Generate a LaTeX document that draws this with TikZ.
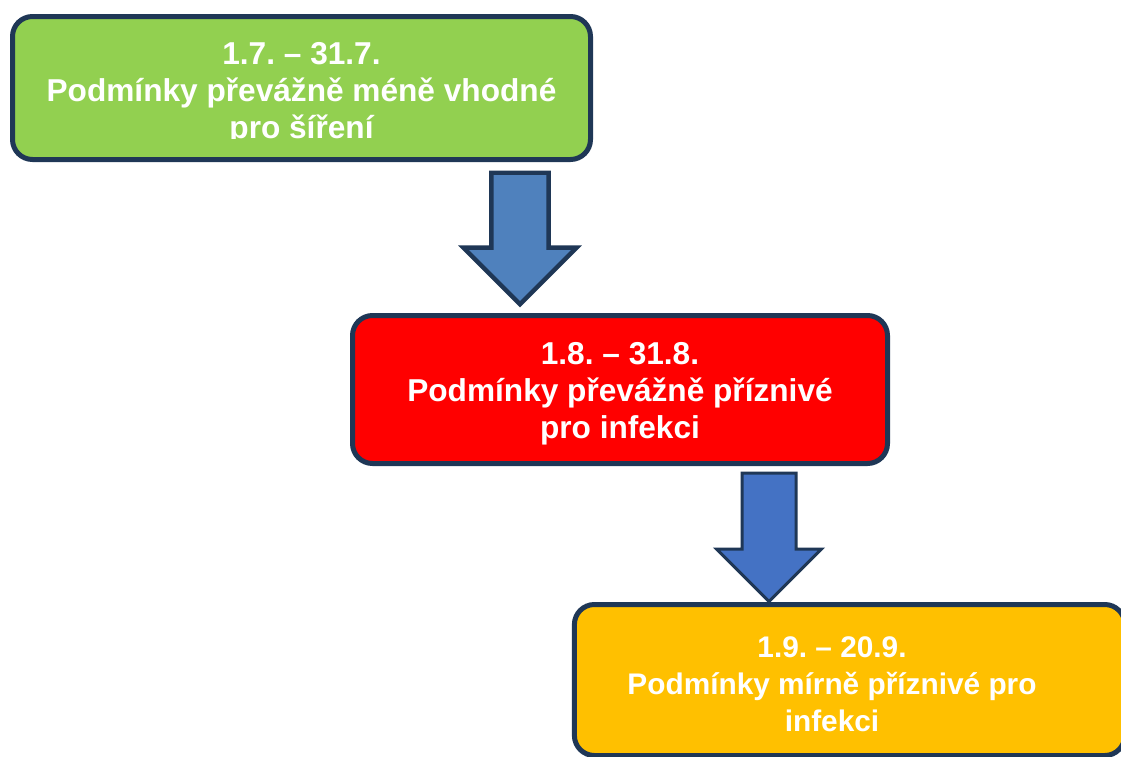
\documentclass[tikz,border=0pt]{standalone}
\usepackage{fontspec}
\setmainfont{Liberation Sans}
\frenchspacing
\usetikzlibrary{shapes.arrows}

\definecolor{edgeblue}{HTML}{1F3756}
\definecolor{greenfill}{HTML}{92D050}
\definecolor{redfill}{HTML}{FF0000}
\definecolor{yellowfill}{HTML}{FFC000}
\definecolor{arrowone}{HTML}{4F81BD}
\definecolor{arrowtwo}{HTML}{4472C4}

\begin{document}
\begin{tikzpicture}[
	box/.style={draw=edgeblue, line width=1.25mm, rounded corners=5mm, rectangle, inner sep=0pt},
	txt/.style={text=white, font=\bfseries\fontsize{22.5}{26.3}\selectfont, align=center, inner sep=0pt},
	downarrow/.style={draw=edgeblue, single arrow, shape border rotate=270, single arrow tip angle=90}
	]
	
	% Rahmen
	\useasboundingbox (0,0) rectangle (28.025,-18.9);
	\clip (0,0) rectangle (28.025,-18.9);
	
	% ======================
	% Juli
	% ======================
	\node[box, fill=greenfill, minimum width=14.45cm, minimum height=3.575cm] (b1) at (7.5375,-2.2) {};
	
	% letzte Zeile unten abgeschnitten
	\begin{scope}
		\clip (0,0) rectangle (28.025,-3.45);
		\node[txt] (t1) at (7.5375,-2.35) {1.7. – 31.7.\\Podmínky převážně méně vhodné\\pro šíření};
	\end{scope}
	
	\node[downarrow, fill=arrowone, line width=1.1mm, inner sep=0.66cm, single arrow head extend=0.7cm, minimum height=3.2875cm, anchor=tail] (a1) at (13.0,-4.2625) {};
	
	% ======================
	% August
	% ======================
	\node[box, fill=redfill, minimum width=13.375cm, minimum height=3.7cm] (b2) at (15.5,-9.7375) {};
	\node[txt] (t2) at (15.5,-9.8375) {1.8. – 31.8.\\Podmínky převážně příznivé\\pro infekci};
	
	\node[downarrow, fill=arrowtwo, line width=0.75mm, inner sep=0.6375cm, single arrow head extend=0.6375cm, minimum height=3.2125cm, anchor=tail] (a2) at (19.225,-11.7875) {};
	
	% ======================
	% September
	% ======================
	\node[box, fill=yellowfill, minimum width=13.76cm, minimum height=3.775cm] (b3) at (21.24,-17.0) {};
	\node[txt, font=\bfseries\fontsize{21.2}{26.3}\selectfont] (t3) at (20.8,-17.1) {1.9. – 20.9.\\Podmínky mírně příznivé pro\\infekci};
	
\end{tikzpicture}
\end{document}
